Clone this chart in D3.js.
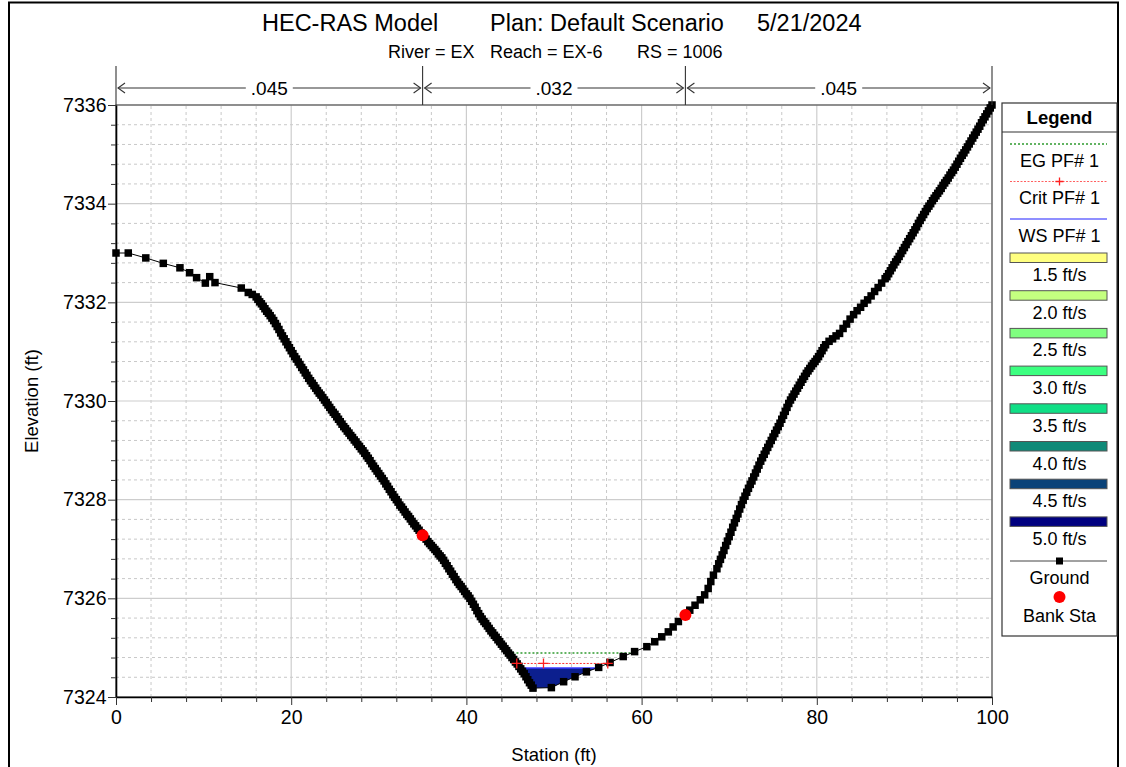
<!DOCTYPE html>
<html>
<head>
<meta charset="utf-8">
<script src="https://cdn.jsdelivr.net/npm/d3@7"></script>
<style>
  body { margin: 0; background: #fff; }
  svg { display: block; }
</style>
</head>
<body>
<svg id="chart" width="1126" height="767"></svg>
<script>
const FONT = "Arial, 'Liberation Sans', sans-serif";

// ground profile, station (ft) and elevation (ft), one line in each array per group
const groundSta = [
  0, 1.4, 3.4, 5.4, 7.3, 8.4, 9.2, 10.2, 10.7, 11.3, 14.3, 15.1, 15.55,
  16.0, 16.2, 16.4, 16.6, 16.8, 17.0, 17.2, 17.4, 17.6, 17.8,
  18.0, 18.2, 18.4, 18.6, 18.8, 19.0, 19.2, 19.4, 19.6, 19.8,
  20.0, 20.2, 20.4, 20.6, 20.8, 21.0, 21.2, 21.4, 21.6, 21.8,
  22.0, 22.2, 22.4, 22.6, 22.8, 23.0, 23.2, 23.4, 23.6, 23.8,
  24.0, 24.2, 24.4, 24.6, 24.8, 25.0, 25.2, 25.4, 25.6, 25.8,
  26.0, 26.2, 26.4, 26.6, 26.8, 27.0, 27.2, 27.4, 27.6, 27.8,
  28.0, 28.2, 28.4, 28.6, 28.8, 29.0, 29.2, 29.4, 29.6, 29.8,
  30.0, 30.2, 30.4, 30.6, 30.8, 31.0, 31.2, 31.4, 31.6, 31.8,
  32.0, 32.2, 32.4, 32.6, 32.8, 33.0, 33.2, 33.4, 33.6, 33.8,
  34.0, 34.2, 34.4, 34.6, 34.8, 35.0, 35.2, 35.4, 35.6, 35.8,
  36.0, 36.2, 36.4, 36.6, 36.8, 37.0, 37.2, 37.4, 37.6, 37.8,
  38.0, 38.2, 38.4, 38.6, 38.8, 39.0, 39.2, 39.4, 39.6, 39.8,
  40.0, 40.2, 40.4, 40.6, 40.8, 41.0, 41.2, 41.4, 41.6, 41.8,
  42.0, 42.2, 42.4, 42.6, 42.8, 43.0, 43.2, 43.4, 43.6, 43.8,
  44.0, 44.2, 44.4, 44.6, 44.8, 45.0, 45.2, 45.4, 45.6, 45.8,
  46.0, 46.2, 46.4, 46.6, 46.8, 47.0, 47.2, 47.4, 47.6,
  49.7, 51.1, 52.4, 53.7, 55.1, 56.4, 57.9, 59.2, 60.6, 61.5,
  62.3, 63.05, 63.6, 64.2, 65.0, 65.5, 66.1, 66.7, 67.2, 67.6,
  67.9, 68.2,
  68.6, 68.8, 69.0, 69.2, 69.4, 69.6, 69.8, 70.0, 70.2, 70.4,
  70.6, 70.8, 71.0, 71.2, 71.4, 71.6, 71.8, 72.0, 72.2, 72.4,
  72.6, 72.8, 73.0, 73.2, 73.4, 73.6, 73.8, 74.0, 74.2, 74.4,
  74.6, 74.8, 75.0, 75.2, 75.4, 75.6, 75.8, 76.0, 76.2, 76.4,
  76.6, 76.8, 77.0, 77.2, 77.4, 77.6, 77.8, 78.0, 78.2, 78.4,
  78.6, 78.8, 79.0, 79.2, 79.4, 79.6, 79.8, 80.0, 80.2, 80.4,
  80.6, 80.8, 81.0,
  81.4, 81.8, 82.2, 82.6, 83.0, 83.4, 83.8, 84.2, 84.6, 85.0,
  85.4, 85.8, 86.2, 86.6, 87.0, 87.4, 87.8,
  88.0, 88.2, 88.4, 88.6, 88.8, 89.0, 89.2, 89.4, 89.6, 89.8,
  90.0, 90.2, 90.4, 90.6, 90.8, 91.0, 91.2, 91.4, 91.6, 91.8,
  92.0, 92.2, 92.4, 92.6, 92.8, 93.0, 93.2, 93.4, 93.6, 93.8,
  94.0, 94.2, 94.4, 94.6, 94.8, 95.0, 95.2, 95.4, 95.6, 95.8,
  96.0, 96.2, 96.4, 96.6, 96.8, 97.0, 97.2, 97.4, 97.6, 97.8,
  98.0, 98.2, 98.4, 98.6, 98.8, 99.0, 99.2, 99.4, 99.6, 99.8,
  100.0
];
const groundElev = [
  7333.00, 7333.00, 7332.90, 7332.79, 7332.70, 7332.60, 7332.50, 7332.39, 7332.52, 7332.40, 7332.29, 7332.20, 7332.16,
  7332.11, 7332.06, 7332.01, 7331.97, 7331.92, 7331.87, 7331.82, 7331.78, 7331.73, 7331.68,
  7331.63, 7331.57, 7331.51, 7331.45, 7331.38, 7331.32, 7331.26, 7331.20, 7331.14, 7331.08,
  7331.02, 7330.96, 7330.90, 7330.85, 7330.79, 7330.74, 7330.68, 7330.63, 7330.57, 7330.52,
  7330.46, 7330.41, 7330.36, 7330.31, 7330.26, 7330.21, 7330.16, 7330.12, 7330.07, 7330.02,
  7329.97, 7329.92, 7329.87, 7329.82, 7329.77, 7329.73, 7329.68, 7329.63, 7329.58, 7329.53,
  7329.48, 7329.44, 7329.39, 7329.35, 7329.30, 7329.26, 7329.21, 7329.17, 7329.12, 7329.08,
  7329.03, 7328.99, 7328.94, 7328.89, 7328.84, 7328.79, 7328.73, 7328.68, 7328.63, 7328.58,
  7328.53, 7328.48, 7328.43, 7328.38, 7328.32, 7328.27, 7328.21, 7328.16, 7328.10, 7328.05,
  7328.00, 7327.95, 7327.89, 7327.85, 7327.80, 7327.75, 7327.70, 7327.66, 7327.61, 7327.56,
  7327.51, 7327.47, 7327.42, 7327.38, 7327.33, 7327.28, 7327.24, 7327.20, 7327.15, 7327.11,
  7327.07, 7327.03, 7326.99, 7326.95, 7326.90, 7326.86, 7326.82, 7326.77, 7326.71, 7326.66,
  7326.60, 7326.55, 7326.49, 7326.44, 7326.38, 7326.33, 7326.28, 7326.24, 7326.19, 7326.14,
  7326.09, 7326.05, 7326.00, 7325.94, 7325.88, 7325.82, 7325.75, 7325.69, 7325.63, 7325.58,
  7325.53, 7325.49, 7325.44, 7325.39, 7325.34, 7325.30, 7325.25, 7325.21, 7325.16, 7325.12,
  7325.07, 7325.03, 7324.98, 7324.94, 7324.89, 7324.85, 7324.80, 7324.76, 7324.71, 7324.67,
  7324.62, 7324.57, 7324.52, 7324.47, 7324.41, 7324.35, 7324.29, 7324.24, 7324.18,
  7324.19, 7324.31, 7324.41, 7324.51, 7324.60, 7324.70, 7324.82, 7324.92, 7325.02, 7325.12,
  7325.22, 7325.32, 7325.42, 7325.53, 7325.66, 7325.76, 7325.86, 7325.97, 7326.07, 7326.20,
  7326.34, 7326.47,
  7326.60, 7326.70, 7326.79, 7326.88, 7326.97, 7327.07, 7327.16, 7327.25, 7327.34, 7327.44,
  7327.53, 7327.62, 7327.71, 7327.81, 7327.90, 7327.99, 7328.07, 7328.15, 7328.23, 7328.31,
  7328.38, 7328.46, 7328.54, 7328.62, 7328.70, 7328.78, 7328.85, 7328.92, 7328.99, 7329.06,
  7329.13, 7329.20, 7329.27, 7329.34, 7329.41, 7329.48, 7329.55, 7329.63, 7329.71, 7329.79,
  7329.87, 7329.95, 7330.02, 7330.08, 7330.14, 7330.20, 7330.26, 7330.32, 7330.38, 7330.44,
  7330.50, 7330.56, 7330.61, 7330.66, 7330.71, 7330.76, 7330.80, 7330.85, 7330.90, 7330.96,
  7331.02, 7331.08, 7331.14,
  7331.21, 7331.26, 7331.32, 7331.37, 7331.47, 7331.56, 7331.66, 7331.75, 7331.83, 7331.90,
  7331.98, 7332.05, 7332.13, 7332.22, 7332.30, 7332.39, 7332.48,
  7332.52, 7332.58, 7332.64, 7332.70, 7332.76, 7332.82, 7332.87, 7332.93, 7332.99, 7333.05,
  7333.11, 7333.17, 7333.23, 7333.29, 7333.35, 7333.41, 7333.47, 7333.53, 7333.60, 7333.66,
  7333.72, 7333.78, 7333.84, 7333.90, 7333.95, 7334.00, 7334.06, 7334.11, 7334.16, 7334.21,
  7334.26, 7334.31, 7334.37, 7334.42, 7334.47, 7334.52, 7334.58, 7334.63, 7334.68, 7334.74,
  7334.80, 7334.86, 7334.92, 7334.98, 7335.03, 7335.09, 7335.15, 7335.21, 7335.27, 7335.33,
  7335.39, 7335.45, 7335.51, 7335.57, 7335.64, 7335.70, 7335.76, 7335.82, 7335.88, 7335.94,
  7336.00
];

const bankSta = [35.0, 65.0];
const bankElev = [7327.28, 7325.66];

const nBreaks = [0, 35, 65, 100];
const nValues = [".045", ".032", ".045"];

const wsElev = 7324.59;
const critElev = 7324.68;
const critMarkSta = [48.8];
const egElev = 7324.89;

const xTicks = [0, 20, 40, 60, 80, 100];
const yTicks = [7324, 7326, 7328, 7330, 7332, 7334, 7336];
const xMinorStep = 4;
const yMinorStep = 0.4;

const velLabels = ["1.5 ft/s", "2.0 ft/s", "2.5 ft/s", "3.0 ft/s", "3.5 ft/s", "4.0 ft/s", "4.5 ft/s", "5.0 ft/s"];
const velColors = ["#ffff80", "#c4ff80", "#80ff80", "#3cff80", "#10df86", "#108a78", "#0a4278", "#000080"];

const titleParts = ["HEC-RAS Model", "Plan: Default Scenario", "5/21/2024"];
const subtitleParts = ["River = EX", "Reach = EX-6", "RS = 1006"];

const ground = groundSta.map((s, i) => ({sta: s, elev: groundElev[i]}));

const svg = d3.select("#chart").attr("font-family", FONT);

const x = d3.scaleLinear().domain([0, 100]).range([116, 992]);
const y = d3.scaleLinear().domain([7324, 7336]).range([697, 105]);

// outer frame
svg.append("rect")
  .attr("x", 9).attr("y", 2.5)
  .attr("width", 1109).attr("height", 800)
  .attr("fill", "none").attr("stroke", "#000").attr("stroke-width", 2);

// titles
const titleX = [262, 490, 757];
svg.selectAll(".title").data(titleParts).enter().append("text")
  .attr("x", (d, i) => titleX[i]).attr("y", 31)
  .attr("font-size", 23.5).text(d => d);
const subX = [388, 490, 637];
svg.selectAll(".sub").data(subtitleParts).enter().append("text")
  .attr("x", (d, i) => subX[i]).attr("y", 58)
  .attr("font-size", 18).text(d => d);

// grid
const grid = svg.append("g");
const xMinor = d3.range(0, 100.001, xMinorStep).filter(v => Math.abs(v % 20) > 1e-6);
const yMinor = d3.range(7324, 7336.001, yMinorStep).filter(v => {
  const r = (v - 7324) % 2; return r > 1e-6 && Math.abs(r - 2) > 1e-6;
});
grid.selectAll(".xm").data(xMinor).enter().append("line")
  .attr("x1", d => x(d)).attr("x2", d => x(d)).attr("y1", y(7324)).attr("y2", y(7336))
  .attr("stroke", "#c8c8c8").attr("stroke-dasharray", "3,3");
grid.selectAll(".ym").data(yMinor).enter().append("line")
  .attr("x1", x(0)).attr("x2", x(100)).attr("y1", d => y(d)).attr("y2", d => y(d))
  .attr("stroke", "#c8c8c8").attr("stroke-dasharray", "3,3");
grid.selectAll(".xM").data(xTicks).enter().append("line")
  .attr("x1", d => x(d)).attr("x2", d => x(d)).attr("y1", y(7324)).attr("y2", y(7336))
  .attr("stroke", "#cdcdcd").attr("stroke-width", 1.2);
grid.selectAll(".yM").data(yTicks).enter().append("line")
  .attr("x1", x(0)).attr("x2", x(100)).attr("y1", d => y(d)).attr("y2", d => y(d))
  .attr("stroke", "#cdcdcd").attr("stroke-width", 1.2);

// plot border
svg.append("rect")
  .attr("x", x(0)).attr("y", y(7336))
  .attr("width", x(100) - x(0)).attr("height", y(7324) - y(7336))
  .attr("fill", "none").attr("stroke", "#555").attr("stroke-width", 1.2);

// water level crossings with ground, searching outward from thalweg
const lowIdx = d3.minIndex(ground, d => d.elev);
function crossing(h, dir) {
  let i = lowIdx;
  while (i + dir >= 0 && i + dir < ground.length && ground[i + dir].elev < h) i += dir;
  const a = ground[i], b = ground[i + dir];
  return a.sta + (b.sta - a.sta) * (h - a.elev) / (b.elev - a.elev);
}

// water fill
const wsL = crossing(wsElev, -1), wsR = crossing(wsElev, 1);
const waterPts = [[wsL, wsElev]]
  .concat(ground.filter(d => d.sta > wsL && d.sta < wsR).map(d => [d.sta, d.elev]))
  .concat([[wsR, wsElev]]);
svg.append("path")
  .attr("d", d3.line().x(d => x(d[0])).y(d => y(d[1]))(waterPts) + "Z")
  .attr("fill", "#0c1f8e");

// EG line
svg.append("line")
  .attr("x1", x(crossing(egElev, -1))).attr("x2", x(crossing(egElev, 1)))
  .attr("y1", y(egElev)).attr("y2", y(egElev))
  .attr("stroke", "#2f9a2f").attr("stroke-width", 1.5).attr("stroke-dasharray", "2,2");

// WS line
svg.append("line")
  .attr("x1", x(wsL)).attr("x2", x(wsR)).attr("y1", y(wsElev)).attr("y2", y(wsElev))
  .attr("stroke", "#3a3aff").attr("stroke-width", 1.5);

// ground
const groundLine = d3.line().x(d => x(d.sta)).y(d => y(d.elev));
svg.append("path").attr("d", groundLine(ground))
  .attr("fill", "none").attr("stroke", "#000").attr("stroke-width", 1);
svg.append("g").selectAll("rect").data(ground).enter().append("rect")
  .attr("x", d => x(d.sta) - 3.75).attr("y", d => y(d.elev) - 3.75)
  .attr("width", 7.5).attr("height", 7.5).attr("fill", "#000");

// Crit line
const critL = crossing(critElev, -1), critR = crossing(critElev, 1);
svg.append("line")
  .attr("x1", x(critL)).attr("x2", x(critR)).attr("y1", y(critElev)).attr("y2", y(critElev))
  .attr("stroke", "#ff3030").attr("stroke-width", 1).attr("stroke-dasharray", "2,1.5");
svg.append("g").selectAll("path").data([critL].concat(critMarkSta, [critR])).enter().append("path")
  .attr("d", d => `M${x(d) - 5},${y(critElev)}h10M${x(d)},${y(critElev) - 5}v10`)
  .attr("stroke", "#ff2020").attr("stroke-width", 1.3);

// bank stations
svg.append("g").selectAll("circle").data(bankSta).enter().append("circle")
  .attr("cx", d => x(d)).attr("cy", (d, i) => y(bankElev[i])).attr("r", 6)
  .attr("fill", "#ff0000");

// axes
const yAxis = svg.append("g").attr("transform", `translate(${x(0)},0)`)
  .call(d3.axisLeft(y).tickValues(yTicks).tickFormat(d3.format("d"))
    .tickSize(8).tickSizeOuter(0).tickPadding(1.5));
svg.append("g").attr("transform", `translate(${x(0)},0)`)
  .call(d3.axisLeft(y).tickValues(yMinor).tickSize(5).tickFormat(""))
  .call(g => g.select(".domain").remove());
const xAxis = svg.append("g").attr("transform", `translate(0,${y(7324)})`)
  .call(d3.axisBottom(x).tickValues(xTicks).tickFormat(d3.format("d"))
    .tickSize(8).tickSizeOuter(0).tickPadding(5));
svg.append("g").attr("transform", `translate(0,${y(7324)})`)
  .call(d3.axisBottom(x).tickValues(xMinor).tickSize(5).tickFormat(""))
  .call(g => g.select(".domain").remove());
[yAxis, xAxis].forEach(g => {
  g.attr("font-family", FONT).attr("font-size", 19.5);
  g.select(".domain").attr("stroke", "#000").attr("stroke-width", 1.6);
  g.selectAll("text").attr("fill", "#000");
});
svg.selectAll(".tick line").attr("stroke", "#333");

svg.append("text")
  .attr("x", (x(0) + x(100)) / 2).attr("y", 761)
  .attr("text-anchor", "middle").attr("font-size", 18.5).text("Station (ft)");
svg.append("text")
  .attr("transform", `translate(38,${(y(7324) + y(7336)) / 2}) rotate(-90)`)
  .attr("text-anchor", "middle").attr("font-size", 18.5).text("Elevation (ft)");

// Manning's n bar
const nBar = svg.append("g").attr("stroke", "#333").attr("stroke-width", 1.1).attr("fill", "none");
nBar.selectAll(".nv").data(nBreaks).enter().append("line")
  .attr("x1", d => x(d)).attr("x2", d => x(d)).attr("y1", 66).attr("y2", y(7336));
nValues.forEach((v, i) => {
  const x0 = x(nBreaks[i]), x1 = x(nBreaks[i + 1]), cx = (x0 + x1) / 2, yy = 88;
  const t = svg.append("text").attr("x", cx).attr("y", yy + 6.5)
    .attr("text-anchor", "middle").attr("font-size", 19).text(v);
  const hw = t.node().getComputedTextLength() / 2 + 5;
  nBar.append("path").attr("d", `M${x0 + 2},${yy}H${cx - hw}M${cx + hw},${yy}H${x1 - 2}`);
  nBar.append("path").attr("d", `M${x0 + 9},${yy - 5}L${x0 + 2},${yy}L${x0 + 9},${yy + 5}`);
  nBar.append("path").attr("d", `M${x1 - 9},${yy - 5}L${x1 - 2},${yy}L${x1 - 9},${yy + 5}`);
});

// legend
const lg = svg.append("g");
const lx0 = 1002, lx1 = 1117, lcx = (lx0 + lx1) / 2, sx0 = 1010, sx1 = 1107;
lg.append("rect").attr("x", lx0).attr("y", 103).attr("width", lx1 - lx0).attr("height", 533)
  .attr("fill", "#fff").attr("stroke", "#333").attr("stroke-width", 1.2);
lg.append("text").attr("x", lcx).attr("y", 124).attr("text-anchor", "middle")
  .attr("font-size", 18.5).attr("font-weight", "bold").text("Legend");
lg.append("line").attr("x1", lx0).attr("x2", lx1).attr("y1", 132).attr("y2", 132)
  .attr("stroke", "#333").attr("stroke-width", 1.2);

function legendText(txt, yy) {
  lg.append("text").attr("x", lcx).attr("y", yy).attr("text-anchor", "middle")
    .attr("font-size", 18).text(txt);
}
lg.append("line").attr("x1", sx0).attr("x2", sx1).attr("y1", 144).attr("y2", 144)
  .attr("stroke", "#2f9a2f").attr("stroke-width", 1.5).attr("stroke-dasharray", "2,2");
legendText("EG PF# 1", 167);
lg.append("line").attr("x1", sx0).attr("x2", sx1).attr("y1", 181.5).attr("y2", 181.5)
  .attr("stroke", "#ff6060").attr("stroke-width", 1).attr("stroke-dasharray", "2,1.5");
lg.append("path").attr("d", `M${lcx - 4},181.5h8M${lcx},177.5v8`).attr("stroke", "#ff2020").attr("stroke-width", 1.3);
legendText("Crit PF# 1", 204);
lg.append("line").attr("x1", sx0).attr("x2", sx1).attr("y1", 219).attr("y2", 219)
  .attr("stroke", "#6a6aff").attr("stroke-width", 1.5);
legendText("WS PF# 1", 242);

velLabels.forEach((lab, i) => {
  const top = 253 + i * 37.7;
  lg.append("rect").attr("x", sx0).attr("y", top).attr("width", sx1 - sx0).attr("height", 9.5)
    .attr("fill", velColors[i]).attr("stroke", "#555").attr("stroke-width", 1);
  legendText(lab, top + 28);
});

lg.append("line").attr("x1", sx0).attr("x2", sx1).attr("y1", 561).attr("y2", 561)
  .attr("stroke", "#444").attr("stroke-width", 1);
lg.append("rect").attr("x", lcx - 3.5).attr("y", 557.5).attr("width", 7).attr("height", 7).attr("fill", "#000");
legendText("Ground", 584);
lg.append("circle").attr("cx", lcx).attr("cy", 597).attr("r", 6).attr("fill", "#ff0000");
legendText("Bank Sta", 622);
</script>
</body>
</html>
